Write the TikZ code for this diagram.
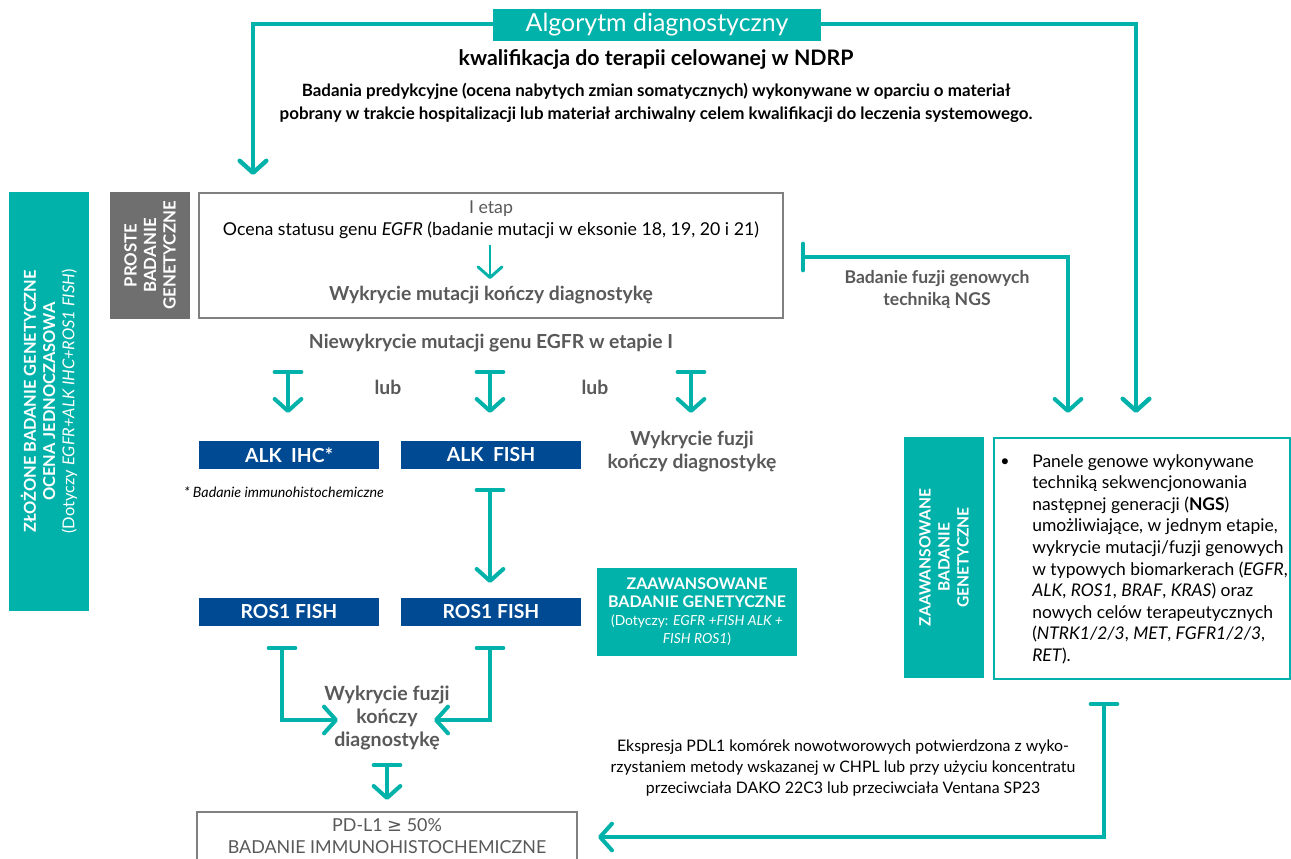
\documentclass[tikz,border=0pt]{standalone}
\usepackage{fontspec}
\setmainfont{Lato}
\newfontfamily\djv{DejaVu Sans}
\usetikzlibrary{arrows.meta}
\definecolor{teal1}{HTML}{00B2A9}
\definecolor{navy1}{HTML}{004A93}
\definecolor{gtext}{HTML}{595959}
\definecolor{gbox}{HTML}{6F6F6F}
\definecolor{gborder}{HTML}{808080}
\begin{document}
\begin{tikzpicture}[x=0.75pt,y=-0.75pt,
  tip/.style={-{Straight Barb[length=9pt,width=20pt,round]}},
  flow/.style={draw=teal1,line width=3pt,tip},
  tflow/.style={draw=teal1,line width=3pt,{Bar[width=20pt,round]}-{Straight Barb[length=9pt,width=20pt,round]}},
  txt/.style={inner sep=0pt,align=center},
  gb/.style={txt,text=gtext,font=\fontsize{14.5}{17}\selectfont\bfseries},
  bluebox/.style={fill=navy1,text=white,minimum width=135pt,minimum height=21pt,inner sep=0pt,font=\fontsize{14.5}{15}\selectfont\bfseries},
  tealv/.style={fill=teal1,text=white,inner sep=0pt,minimum width=60pt},
  vlabel/.style={rotate=90,align=center,text=white}
]
\clip (0,0) rectangle (1291,859);
\useasboundingbox (0,0) rectangle (1291,859);
\fill[white] (0,0) rectangle (1291,859);

% title
\node[fill=teal1,text=white,minimum width=246pt,minimum height=24pt,inner sep=0pt,font=\fontsize{18.7}{20}\selectfont] (title) at (657,25) {Algorytm diagnostyczny};
\node[txt,font=\fontsize{16}{19}\selectfont\bfseries] (kw) at (656,59) {kwalifikacja do terapii celowanej w NDRP};
\node[txt,font=\fontsize{12.7}{17.5}\selectfont\bfseries] (bad) at (656,103) {Badania predykcyjne (ocena nabytych zmian somatycznych) wykonywane w oparciu o materiał\\pobrany w trakcie hospitalizacji lub materiał archiwalny celem kwalifikacji do leczenia systemowego.};

% left boxes
\node[tealv,minimum height=314.25pt] (zl) at (49,401.5) {};
\node[vlabel,font=\fontsize{12.3}{14.5}\selectfont] at (zl.center) {\textbf{ZŁOŻONE BADANIE GENETYCZNE}\\\textbf{OCENA JEDNOCZASOWA}\\(Dotyczy \textit{EGFR+ALK IHC+ROS1 FISH})};
\node[fill=gbox,inner sep=0pt,minimum width=60pt,minimum height=95.25pt] (pr) at (150,255.5) {};
\node[vlabel,font=\fontsize{12.6}{14.6}\selectfont\bfseries] at (pr.center) {PROSTE\\BADANIE\\GENETYCZNE};

% etap box
\node[draw=gborder,line width=1.4pt,minimum width=438pt,minimum height=93.75pt,inner sep=0pt] (etap) at (491,255.5) {};
\node[txt,text=gtext,font=\fontsize{13.3}{15}\selectfont] (et) at (491,209) {I etap};
\node[txt,font=\fontsize{13.3}{15}\selectfont] (oc) at (491,230) {Ocena statusu genu \textit{EGFR} (badanie mutacji w eksonie 18, 19, 20 i 21)};
\node[gb] (wm) at (491,295) {Wykrycie mutacji kończy diagnostykę};
\coordinate (a1s) at (490,245);
\coordinate (a1e) at (490,279);
\draw[draw=teal1,line width=2.2pt,-{Straight Barb[length=8pt,width=18pt,round]}] (a1s) -- (a1e);

\node[gb] (nie) at (491,343) {Niewykrycie mutacji genu EGFR w etapie I};

% three T arrows
\coordinate (t1s) at (288,370); \coordinate (t1e) at (288,413);
\coordinate (t2s) at (490,370); \coordinate (t2e) at (490,413);
\coordinate (t3s) at (691,370); \coordinate (t3e) at (691,413);
\draw[tflow] (t1s) -- (t1e);
\draw[tflow] (t2s) -- (t2e);
\draw[tflow] (t3s) -- (t3e);
\node[gb] (lub1) at (388,387) {lub};
\node[gb] (lub2) at (595,387) {lub};

\node[bluebox] (alkihc) at (289,455) {ALK\ \ IHC*};
\node[bluebox] (alkfish) at (491,455) {ALK\ \ FISH};
\node[gb,font=\fontsize{14.5}{17.3}\selectfont\bfseries] (wf1) at (692,452) {Wykrycie fuzji\\kończy diagnostykę};
\node[txt,font=\fontsize{10.7}{12}\selectfont\itshape] (foot) at (284,492) {* Badanie immunohistochemiczne};

\coordinate (t4s) at (490,488); \coordinate (t4e) at (490,583);
\draw[tflow] (t4s) -- (t4e);

\node[bluebox] (ros1) at (289,612) {ROS1 FISH};
\node[bluebox] (ros2) at (491,612) {ROS1 FISH};
\node[fill=teal1,text=white,minimum width=150pt,minimum height=66pt,inner sep=0pt,align=center,font=\fontsize{12}{13.5}\selectfont] (zaaw) at (697,612) {\textbf{ZAAWANSOWANE}\\\textbf{BADANIE GENETYCZNE}\\{\fontsize{10.4}{13}\selectfont(Dotyczy: \textit{EGFR +FISH ALK +}}\\{\fontsize{10.4}{13}\selectfont\textit{FISH ROS1})}};

\node[gb,font=\fontsize{14.7}{17.3}\selectfont\bfseries] (wf2) at (387,718) {Wykrycie fuzji\\kończy\\diagnostykę};
\coordinate (t5s) at (282,646); \coordinate (t5e) at (338,720);
\coordinate (t6s) at (490,646); \coordinate (t6e) at (434,720);
\draw[tflow] (t5s) |- (t5e);
\draw[tflow] (t6s) |- (t6e);
\coordinate (t7s) at (387,763); \coordinate (t7e) at (387,800);
\draw[tflow] (t7s) -- (t7e);

\draw[draw=gborder,line width=1.4pt] (197,866) -- (197,812) coordinate (pdtl) -- (577,812) -- (577,866);
\node[txt,text=gtext,font=\fontsize{13.4}{16}\selectfont] (pd) at (387,836) {PD-L1 {\djv ≥} 50\%\\BADANIE IMMUNOHISTOCHEMICZNE};

% right side
\node[txt,text=gtext,font=\fontsize{13.2}{16.5}\selectfont\bfseries] (ngs) at (937,289) {Badanie fuzji genowych\\techniką NGS};
\coordinate (t8s) at (801,257); \coordinate (t8m) at (1068,257); \coordinate (t8e) at (1068,413);
\draw[draw=teal1,line width=3pt,{Bar[width=20pt,round]}-{Straight Barb[length=9pt,width=20pt,round]}] (t8s) -- (t8m) -- (t8e);

\coordinate (o1) at (253,24); \coordinate (o1e) at (253,175);
\coordinate (o2) at (1136,24); \coordinate (o2e) at (1136,413);
\draw[flow,line width=3.3pt] (title.west |- o1) -- (o1) -- (o1e);
\draw[flow,line width=3.3pt] (title.east |- o2) -- (o2) -- (o2e);

\node[tealv,minimum height=180.75pt] (zv) at (944,557.5) {};
\node[vlabel,font=\fontsize{11.7}{14.3}\selectfont\bfseries] at (zv.center) {ZAAWANSOWANE\\BADANIE\\GENETYCZNE};
\node[draw=teal1,line width=1.3pt,minimum width=222pt,minimum height=180.75pt,inner sep=0pt] (panel) at (1142,558.5) {};
\node[inner sep=0pt,font=\fontsize{12}{12}\selectfont] (bul) at (1005,463) {•};
\node[anchor=north west,inner sep=0pt,align=left,font=\fontsize{13.1}{16.2}\selectfont] (ptxt) at (1032,454) {Panele genowe wykonywane\\techniką sekwencjonowania\\następnej generacji (\textbf{NGS})\\umożliwiające, w jednym etapie,\\wykrycie mutacji/fuzji genowych\\w typowych biomarkerach (\textit{EGFR},\\\textit{ALK}, \textit{ROS1}, \textit{BRAF}, \textit{KRAS}) oraz\\nowych celów terapeutycznych\\(\textit{NTRK1/2/3}, \textit{MET}, \textit{FGFR1/2/3},\\\textit{RET}).};

\node[txt,font=\fontsize{11.9}{15.5}\selectfont] (eks) at (843,768) {Ekspresja PDL1 komórek nowotworowych potwierdzona z wyko-\\rzystaniem metody wskazanej w CHPL lub przy użyciu koncentratu\\przeciwciała DAKO 22C3 lub przeciwciała Ventana SP23};
\coordinate (t9s) at (1104,702); \coordinate (t9e) at (598,837);
\draw[tflow] (t9s) |- (t9e);
\end{tikzpicture}
\end{document}
